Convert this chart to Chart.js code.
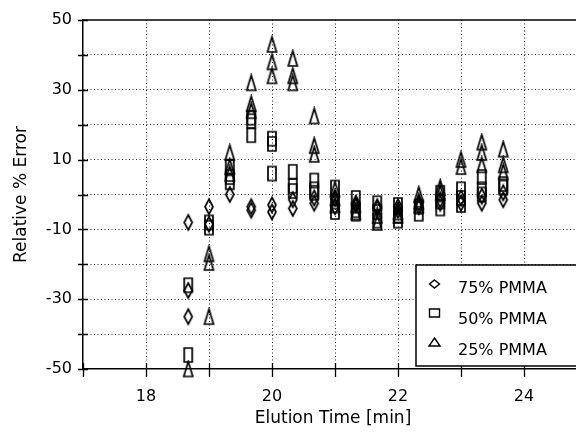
<!DOCTYPE html>
<html>
<head>
<meta charset="utf-8">
<script src="https://cdn.jsdelivr.net/npm/chart.js@4/dist/chart.umd.min.js"></script>
<style>
	html, body { margin: 0; padding: 0; background: #fff; overflow: hidden; }
	#wrap { width: 576px; height: 435px; position: relative; overflow: hidden; }
</style>
</head>
<body>
<div id="wrap"><canvas id="chart" width="590" height="435"></canvas></div>
<script>
// elution times (min) where the replicates were measured
const elutionTimes = [18.67, 19.00, 19.33, 19.67, 20.00, 20.33, 20.67, 21.00, 21.33, 21.67, 22.00, 22.33, 22.67, 23.00, 23.33, 23.67];

// relative % error, one list of replicates per elution time
const pmma75 = [
	[-8, -27.5, -35], [-3.5, -8.5], [0], [-3.5, -4.5], [-3, -5], [-1.5, -4], [-1, -2.5], [-1, -3.5],
	[-2.5, -3], [-3.5, -4], [-3.5, -4.5], [-2.5, -3.5], [-1.5, -2.5], [-1, -2.5], [-0.5, -2.5], [0.5, -1.5]
];
const pmma50 = [
	[-26, -46], [-8, -9.5], [8, 5, 3.5], [22, 21, 17], [16, 14.5, 6], [6.5, 2.5, 1], [4, 1.5, 0.5], [2, -2, -5],
	[-1, -4.5, -5.5], [-2.5, -5, -7.5], [-3, -6, -7.5], [-3.5, -5.5], [0.5, -2, -4], [1.5, -1, -3], [5, 1.5, 0], [3, 2]
];
const pmma25 = [
	[-50], [-17, -19.5, -35], [12, 8, 6], [32, 26, 24], [43, 38, 34], [39, 34, 32], [22.5, 14, 11.5], [1.5, -1, -3],
	[-3, -5], [-6, -8], [-5, -6], [0, -2, -3], [2, 0.5], [10, 8], [15, 12, 8.5], [13, 8.5, 6.5]
];

const seriesLabels = ['75% PMMA', '50% PMMA', '25% PMMA'];

const xTicks = [17, 18, 19, 20, 21, 22, 23, 24, 25];
const xLabels = [18, 20, 22, 24];
const yTicks = [-50, -40, -30, -20, -10, 0, 10, 20, 30, 40, 50];
const yLabels = [-50, -30, -10, 10, 30, 50];

const INK = '#000';
const FONT = 'DejaVu Sans';
const X_MIN = 17;
const PX_PER_MIN = 63; // the original axis runs on past the right edge of the picture

function toPoints (values) {
	const points = [];
	values.forEach((reps, i) => {
		reps.forEach(v => points.push({ x: elutionTimes[i], y: v }));
	});
	return points;
}

function shapePath (g, shape, cx, cy, w, h) {
	g.beginPath();
	if (shape === 'diamond') {
		g.moveTo(cx, cy - h / 2);
		g.lineTo(cx + w / 2, cy);
		g.lineTo(cx, cy + h / 2);
		g.lineTo(cx - w / 2, cy);
	} else if (shape === 'square') {
		g.rect(cx - w / 2, cy - h / 2, w, h);
	} else {
		g.moveTo(cx, cy - h / 2);
		g.lineTo(cx + w / 2, cy + h / 2);
		g.lineTo(cx - w / 2, cy + h / 2);
	}
	g.closePath();
}

// hollow marker drawn once and handed to Chart.js as pointStyle
function markerCanvas (shape, w, h) {
	const c = document.createElement('canvas');
	c.width = w + 4;
	c.height = h + 4;
	const g = c.getContext('2d');
	g.strokeStyle = INK;
	g.lineWidth = 1.7;
	shapePath(g, shape, c.width / 2, c.height / 2, w, h);
	g.stroke();
	return c;
}

const shapes = ['diamond', 'square', 'triangle'];
const markers = [
	markerCanvas('diamond', 8, 15),
	markerCanvas('square', 8, 14),
	markerCanvas('triangle', 9, 15)
];

// solid top border plus short tick marks crossing the axes
const framePlugin = {
	id: 'frame',
	afterDraw (chart) {
		const { ctx, chartArea, scales } = chart;
		ctx.save();
		ctx.strokeStyle = INK;
		ctx.lineWidth = 1.5;
		ctx.beginPath();
		ctx.moveTo(chartArea.left, chartArea.top);
		ctx.lineTo(chartArea.right, chartArea.top);
		ctx.stroke();

		ctx.lineWidth = 1.3;
		ctx.beginPath();
		xTicks.forEach(v => {
			const px = Math.round(scales.x.getPixelForValue(v)) + 0.5;
			ctx.moveTo(px, chartArea.bottom - 6);
			ctx.lineTo(px, chartArea.bottom + 8);
		});
		yTicks.forEach(v => {
			const py = Math.round(scales.y.getPixelForValue(v)) + 0.5;
			ctx.moveTo(chartArea.left - 5, py);
			ctx.lineTo(chartArea.left + 5, py);
		});
		ctx.stroke();
		ctx.restore();
	}
};

// boxed legend inside the lower right of the plot
const boxLegendPlugin = {
	id: 'boxLegend',
	afterDraw (chart) {
		const { ctx } = chart;
		const left = 416, top = 265, bottom = 366;
		ctx.save();
		ctx.fillStyle = '#fff';
		ctx.fillRect(left, top, chart.width - left, bottom - top);
		ctx.strokeStyle = INK;
		ctx.lineWidth = 1.5;
		ctx.strokeRect(left, top, chart.width - left + 10, bottom - top);

		ctx.font = `16px "${FONT}"`;
		ctx.fillStyle = INK;
		ctx.textBaseline = 'middle';
		ctx.textAlign = 'left';
		chart.data.datasets.forEach((ds, i) => {
			const sy = 284 + i * 29;
			ctx.lineWidth = 1.4;
			shapePath(ctx, shapes[i], 434.5, sy, i === 2 ? 11 : 10, 8);
			ctx.stroke();
			ctx.fillText(ds.label, 458, 289 + i * 31);
		});
		ctx.restore();
	}
};

const datasets = [pmma75, pmma50, pmma25].map((values, i) => ({
	label: seriesLabels[i],
	data: toPoints(values),
	pointStyle: markers[i],
	pointRadius: 6,
	clip: false
}));

const gridColor = (ctx, ends) => ends.includes(ctx.tick.value) ? 'rgba(0,0,0,0)' : '#222';

function noScalePadding (s) {
	s.paddingLeft = 0;
	s.paddingRight = 0;
	s.paddingTop = 0;
	s.paddingBottom = 0;
}

new Chart(document.getElementById('chart'), {
	type: 'scatter',
	data: { datasets },
	plugins: [framePlugin, boxLegendPlugin],
	options: {
		responsive: false,
		animation: false,
		layout: { padding: { top: 20, right: 3, left: 0, bottom: 0 } },
		plugins: {
			legend: { display: false },
			tooltip: { enabled: false }
		},
		scales: {
			x: {
				type: 'linear',
				min: X_MIN,
				max: 25,
				afterBuildTicks: s => {
					s.max = X_MIN + s.width / PX_PER_MIN;
					s.ticks = xTicks.filter(v => v <= s.max).map(v => ({ value: v }));
				},
				afterFit: s => { s.height = 66; noScalePadding(s); },
				grid: { color: ctx => gridColor(ctx, [17, 25]), lineWidth: 1, drawTicks: false },
				border: { display: true, color: INK, width: 1.5, dash: [1, 2.5] },
				ticks: {
					autoSkip: false,
					maxRotation: 0,
					padding: 18,
					color: INK,
					font: { family: FONT, size: 16 },
					callback: v => xLabels.includes(v) ? String(v) : ''
				},
				title: {
					display: true,
					text: 'Elution Time [min]',
					color: INK,
					font: { family: FONT, size: 17 },
					padding: { top: 0, bottom: 6 }
				}
			},
			y: {
				type: 'linear',
				min: -50,
				max: 50,
				afterBuildTicks: s => { s.ticks = yTicks.map(v => ({ value: v })); },
				afterFit: s => { s.width = 83; noScalePadding(s); },
				grid: { color: ctx => gridColor(ctx, [-50, 50]), lineWidth: 1, drawTicks: false },
				border: { display: true, color: INK, width: 1.5, dash: [1, 2.5] },
				ticks: {
					autoSkip: false,
					padding: 11,
					color: INK,
					font: { family: FONT, size: 16 },
					callback: v => yLabels.includes(v) ? String(v) : ''
				},
				title: {
					display: true,
					text: 'Relative % Error',
					color: INK,
					font: { family: FONT, size: 17 },
					padding: { top: 11, bottom: 0 }
				}
			}
		}
	}
});
</script>
</body>
</html>
